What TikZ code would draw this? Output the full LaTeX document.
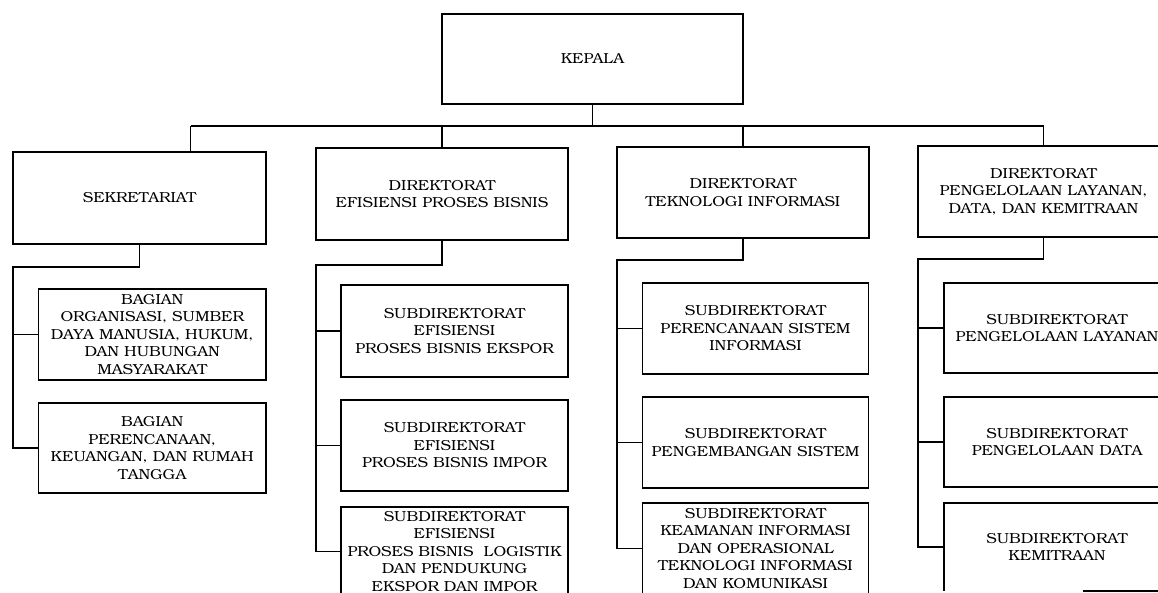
\documentclass[tikz,border=0pt]{standalone}
\usepackage{fontspec}
\setmainfont{TeX Gyre Bonum}[FakeStretch=1.09]
\begin{document}
\begin{tikzpicture}[x=1pt,y=-1pt, line width=1.1pt,
  lbl/.style={font=\fontsize{14.5}{17.5}\selectfont, align=center},
  box/.style={draw, rectangle, anchor=north west, inner sep=0pt, outer sep=0pt, lbl}]
\useasboundingbox (0,0) rectangle (1158,592);
\clip (0,0) rectangle (1158,592);

% top level
\node[box, minimum width=301pt, minimum height=90pt] (kepala) at (442,14) {KEPALA};
\node[box, minimum width=253pt, minimum height=92pt] (sek) at (13,152) {SEKRETARIAT};
\node[box, minimum width=252pt, minimum height=92pt] (epb) at (316,148) {DIREKTORAT\\EFISIENSI PROSES BISNIS};
\node[box, minimum width=252pt, minimum height=91pt] (ti) at (617,147) {DIREKTORAT\\TEKNOLOGI INFORMASI};
\node[box, minimum width=251pt, minimum height=91pt] (pl) at (918,146) {DIREKTORAT\\PENGELOLAAN LAYANAN,\\DATA, DAN KEMITRAAN};

% sekretariat children
\node[box, minimum width=227.5pt, minimum height=91pt] (sb1) at (38.5,289) {BAGIAN\\ORGANISASI, SUMBER\\DAYA MANUSIA, HUKUM,\\DAN HUBUNGAN\\MASYARAKAT};
\node[box, minimum width=227.5pt, minimum height=90pt] (sb2) at (38.5,403) {BAGIAN\\PERENCANAAN,\\KEUANGAN, DAN RUMAH\\TANGGA};

% EPB children
\node[box, minimum width=227pt, minimum height=92pt] (e1) at (341,285) {SUBDIREKTORAT\\EFISIENSI\\PROSES BISNIS EKSPOR};
\node[box, minimum width=227pt, minimum height=91pt] (e2) at (341,400) {SUBDIREKTORAT\\EFISIENSI\\PROSES BISNIS IMPOR};
\node[box, minimum width=227pt, minimum height=89pt] (e3) at (341,507) {SUBDIREKTORAT\\EFISIENSI\\PROSES BISNIS \ LOGISTIK\\DAN PENDUKUNG\\EKSPOR DAN IMPOR};

% TI children
\node[box, minimum width=226pt, minimum height=91pt] (t1) at (642.5,283) {SUBDIREKTORAT\\PERENCANAAN SISTEM\\INFORMASI};
\node[box, minimum width=226pt, minimum height=91pt] (t2) at (642.5,397) {SUBDIREKTORAT\\PENGEMBANGAN SISTEM};
\node[box, minimum width=226pt, minimum height=91pt] (t3) at (642.5,503) {SUBDIREKTORAT\\KEAMANAN INFORMASI\\DAN OPERASIONAL\\TEKNOLOGI INFORMASI\\DAN KOMUNIKASI};

% PLDK children
\node[box, minimum width=226pt, minimum height=90pt] (p1) at (944,283) {SUBDIREKTORAT\\PENGELOLAAN LAYANAN};
\node[box, minimum width=226pt, minimum height=90pt] (p2) at (944,397) {SUBDIREKTORAT\\PENGELOLAAN DATA};
\node[box, minimum width=226pt, minimum height=88pt, draw=none] (p3) at (944,503) {SUBDIREKTORAT\\KEMITRAAN};
\draw (p3.south east) -- (p3.north east) -- (p3.north west) -- (p3.south west);
\coordinate (frag) at (1083,0);
\draw (p3.south -| frag) -- (p3.south east);

% top bus
\coordinate (bk) at (592.5,126);
\coordinate (bL) at (190.5,126);
\draw (kepala.south) -- (bk);
\draw (bL) -- (bk -| pl.north);
\draw (bL) -- (bL |- sek.north);
\draw (epb.north) -- (epb.north |- bk);
\draw (ti.north) -- (ti.north |- bk);
\draw (pl.north) -- (pl.north |- bk);

% sekretariat subtree
\coordinate (sl) at (13,267);
\draw (sek.south) |- (sl) |- (sb2.west);
\draw (sb1.west) -- (sb1.west -| sl);

% EPB subtree
\coordinate (el) at (316,265);
\draw (epb.south) |- (el) |- (e3.west);
\draw (e1.west) -- (e1.west -| el);
\draw (e2.west) -- (e2.west -| el);

% TI subtree
\coordinate (tl) at (617,260);
\draw (ti.south) |- (tl) |- (t3.west);
\draw (t1.west) -- (t1.west -| tl);
\draw (t2.west) -- (t2.west -| tl);

% PLDK subtree
\coordinate (pll) at (918,259);
\draw (pl.south) |- (pll) |- (p3.west);
\draw (p1.west) -- (p1.west -| pll);
\draw (p2.west) -- (p2.west -| pll);
\end{tikzpicture}
\end{document}
